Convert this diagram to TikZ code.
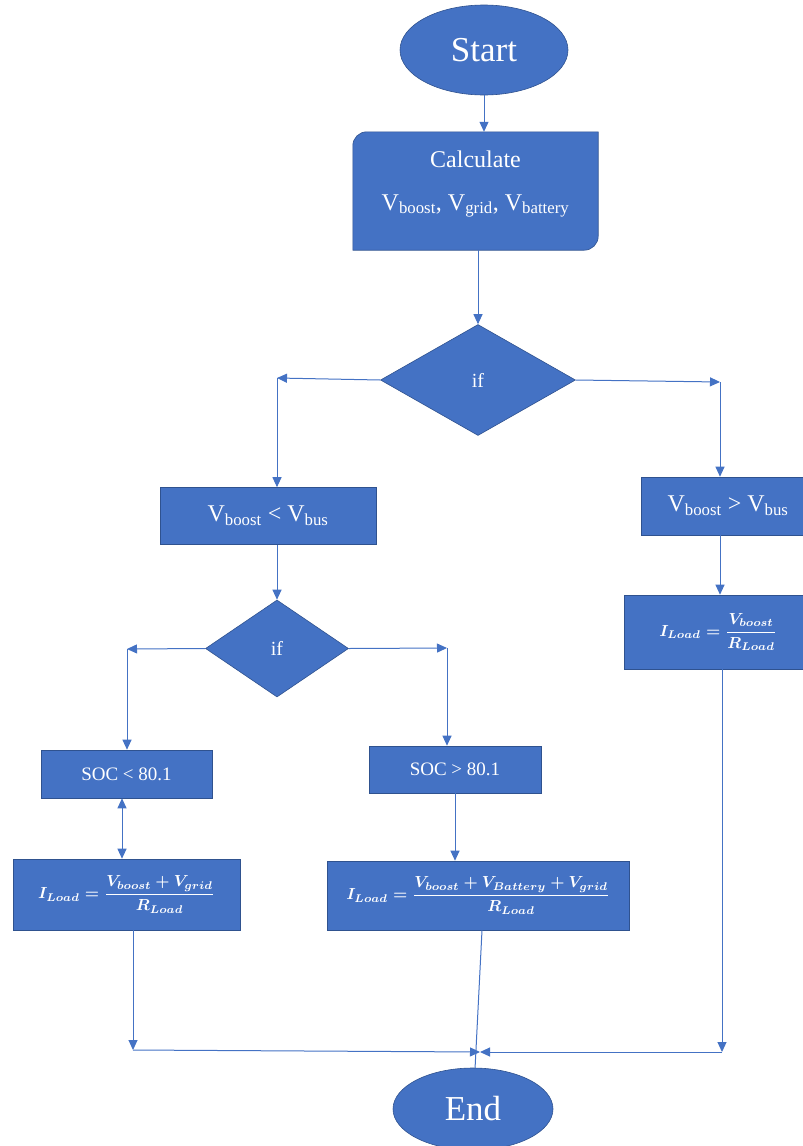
\documentclass[tikz,border=0pt]{standalone}
\usepackage{amsmath}
\usepackage{fontspec}
\setmainfont{Liberation Serif}
\usetikzlibrary{arrows.meta, shapes.geometric, positioning}
\definecolor{boxblue}{HTML}{4472C4}
\definecolor{boxedge}{HTML}{2F528F}
\definecolor{lineblue}{HTML}{4472C4}
\newcommand{\loadeq}[1]{\scalebox{1.6}{\boldmath$#1$}}
\tikzset{
>={Triangle[length=10pt,width=9pt]}, % filled arrow heads
flowbox/.style={rectangle, fill=boxblue, draw=boxedge, line width=0.6pt, text=white, inner sep=0pt, align=center},
term/.style={ellipse, fill=boxblue, draw=boxedge, line width=0.6pt, text=white, inner sep=0pt, font=\fontsize{35}{42}\selectfont},
decision/.style={diamond, fill=boxblue, draw=boxedge, line width=0.6pt, text=white, inner sep=0pt, font=\fontsize{20}{24}\selectfont},
link/.style={draw=lineblue, line width=1pt},
}

\begin{document}
\begin{tikzpicture}[x=1pt, y=-1pt]
  \useasboundingbox (0,0) rectangle (803,1146);

  \node[term, minimum width=168pt, minimum height=90pt] (start) at (484,50) {Start};

  % calculate box, two rounded corners
  \node[minimum width=245pt, minimum height=118pt, inner sep=0pt] (calc) at (475.5,191) {};
  \path[fill=boxblue, draw=boxedge, line width=0.6pt] (calc.north east) [rounded corners=14pt] -- (calc.south east) [sharp corners] -- (calc.south west) [rounded corners=14pt] -- (calc.north west) [sharp corners] -- cycle;
  \node[text=white, align=center, font=\fontsize{24}{29}\selectfont] (calctext) at (475.5,184) {Calculate\\[14pt] V\textsubscript{boost}, V\textsubscript{grid}, V\textsubscript{battery}};

  \node[decision, minimum width=195pt, minimum height=111pt] (if1) at (478,380) {if};
  \node[flowbox, minimum width=216pt, minimum height=57pt, font=\fontsize{24}{29}\selectfont] (lt) at (268,516) {V\textsubscript{boost} < V\textsubscript{bus}};
  \node[flowbox, minimum width=174pt, minimum height=58pt, font=\fontsize{24}{29}\selectfont] (gt) at (728,506) {V\textsubscript{boost} > V\textsubscript{bus}};
  \node[flowbox, minimum width=188pt, minimum height=74pt] (il3) at (718,632) {\loadeq{I_{Load}=\dfrac{V_{boost}}{R_{Load}}}};

  \node[decision, minimum width=143pt, minimum height=97pt] (if2) at (277,648.5) {if};
  \node[flowbox, minimum width=171pt, minimum height=48pt, font=\fontsize{19}{23}\selectfont] (soclt) at (126.5,774) {SOC < 80.1};
  \node[flowbox, minimum width=172pt, minimum height=47pt, font=\fontsize{19}{23}\selectfont] (socgt) at (455,769.5) {SOC > 80.1};
  \node[flowbox, minimum width=227pt, minimum height=71pt] (il1) at (126.5,894.5) {\loadeq{I_{Load}=\dfrac{V_{boost}+V_{grid}}{R_{Load}}}};
  \node[flowbox, minimum width=302pt, minimum height=69pt] (il2) at (478,895.5) {\loadeq{I_{Load}=\dfrac{V_{boost}+V_{Battery}+V_{grid}}{R_{Load}}}};

  \node[term, minimum width=160pt, minimum height=82pt] (end) at (473,1109) {End};

  % bends and junction
  \coordinate (c1) at (277,378);
  \coordinate (c2) at (720,382);
  \coordinate (c3) at (722,1052);
  \coordinate (c4) at (127,649);
  \coordinate (c6) at (447,648);
  \coordinate (c7) at (133,1050);
  \coordinate (c5) at (480,1052);

  \draw[link,->] (start.south) -- (start.south |- calc.north);
  \draw[link,->] (calc.south -| if1.north) -- (if1.north);
  \draw[link,->] (if1.west) -- (c1);
  \draw[link,->] (c1) -- (c1 |- lt.north);
  \draw[link,->] (if1.east) -- (c2);
  \draw[link,->] (c2) -- (c2 |- gt.north);
  \draw[link,->] (c2 |- gt.south) -- (c2 |- il3.north);
  \draw[link,->] (c3 |- il3.south) -- (c3);
  \draw[link,->] (c3) -- (c5);
  \draw[link,->] (lt.south -| if2.north) -- (if2.north);
  \draw[link,->] (if2.west) -- (c4);
  \draw[link,->] (c4) -- (c4 |- soclt.north);
  \draw[link,->] (if2.east) -- (c6);
  \draw[link,->] (c6) -- (c6 |- socgt.north);
  \draw[link,<->] ([xshift=-4.5pt]soclt.south) -- ([xshift=-4.5pt]soclt.south |- il1.north);
  \draw[link,->] (socgt.south) -- (socgt.south |- il2.north);
  \draw[link,->] (c7 |- il1.south) -- (c7);
  \draw[link,->] (c7) -- (c5);
  \draw[link] ([xshift=4pt]il2.south) -- (end);
\end{tikzpicture}
\end{document}
